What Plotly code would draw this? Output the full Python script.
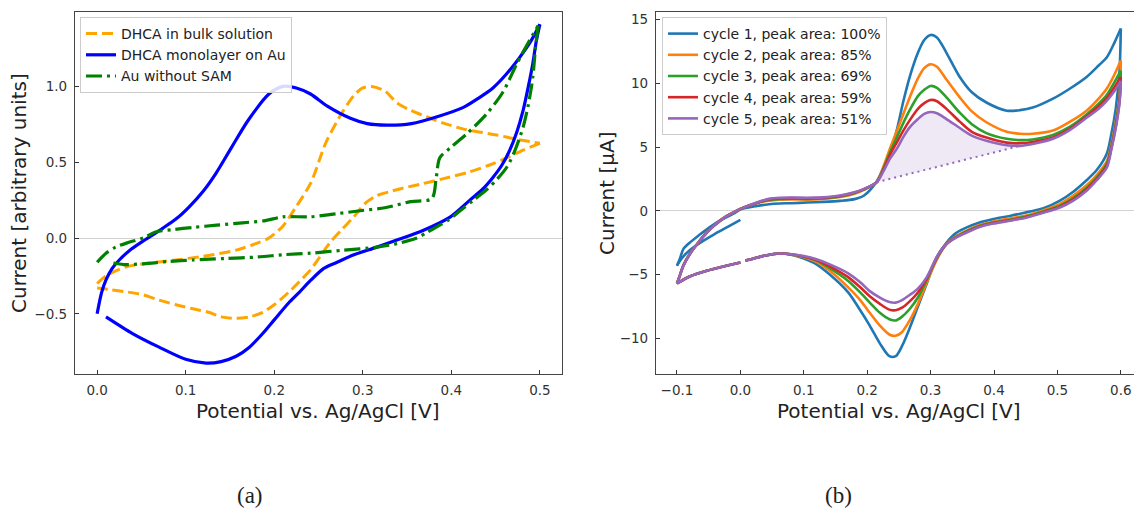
import plotly.graph_objects as go

# ---------------- Panel (a) data ----------------
bulk_x = [0.0, 0.01, 0.033, 0.06, 0.089, 0.12, 0.157, 0.18, 0.194, 0.21, 0.224, 0.241, 0.258, 0.27, 0.278, 0.29, 0.3, 0.31,
          0.325, 0.339, 0.355, 0.372, 0.39, 0.413, 0.431, 0.451, 0.475, 0.5,
          0.481, 0.465, 0.447, 0.42, 0.39, 0.365, 0.346, 0.33, 0.316, 0.303, 0.29, 0.277, 0.263, 0.252, 0.241, 0.228,
          0.216, 0.2, 0.187, 0.172, 0.157, 0.14, 0.126, 0.107, 0.089, 0.07, 0.052, 0.033, 0.014, 0.0]
bulk_y = [-0.30, -0.25, -0.19, -0.165, -0.145, -0.12, -0.08, -0.035, 0.0, 0.08, 0.2, 0.36, 0.625, 0.76, 0.84, 0.94, 0.99, 1.0,
          0.97, 0.89, 0.84, 0.8, 0.76, 0.72, 0.7, 0.68, 0.65, 0.625,
          0.58, 0.535, 0.49, 0.435, 0.39, 0.355, 0.33, 0.305, 0.28, 0.23, 0.14, 0.06, -0.03, -0.12, -0.21, -0.29,
          -0.36, -0.44, -0.49, -0.52, -0.53, -0.52, -0.49, -0.465, -0.44, -0.41, -0.375, -0.355, -0.34, -0.33]

mono_x = [0.0, 0.005, 0.01, 0.017, 0.025, 0.037, 0.051, 0.074, 0.09, 0.104, 0.12, 0.134, 0.152, 0.171, 0.194, 0.21,
          0.225, 0.241, 0.26, 0.286, 0.305, 0.327, 0.355, 0.384, 0.413, 0.43, 0.447, 0.462, 0.477, 0.49, 0.5,
          0.496, 0.492, 0.487, 0.481, 0.474, 0.466, 0.457, 0.447, 0.435, 0.421, 0.399, 0.368, 0.34, 0.316, 0.29,
          0.271, 0.256, 0.241, 0.228, 0.216, 0.2, 0.187, 0.172, 0.157, 0.14, 0.123, 0.1, 0.07, 0.04, 0.01]
mono_y = [-0.5, -0.36, -0.276, -0.2, -0.145, -0.08, -0.024, 0.064, 0.13, 0.206, 0.31, 0.425, 0.6, 0.78, 0.95, 1.0,
          0.99, 0.95, 0.87, 0.79, 0.755, 0.745, 0.755, 0.80, 0.86, 0.92, 0.99, 1.08, 1.19, 1.3, 1.41,
          1.3, 1.15, 1.0, 0.84, 0.7, 0.58, 0.48, 0.40, 0.32, 0.25, 0.14, 0.05, -0.01, -0.06, -0.11,
          -0.16, -0.2, -0.28, -0.36, -0.43, -0.54, -0.63, -0.72, -0.78, -0.815, -0.825, -0.8, -0.72, -0.63, -0.52]

au_x = [0.0, 0.01, 0.021, 0.035, 0.052, 0.066, 0.085, 0.108, 0.135, 0.164, 0.19, 0.21, 0.241, 0.27, 0.297, 0.325,
        0.354, 0.378, 0.383, 0.387, 0.4, 0.418, 0.44, 0.458, 0.474, 0.488, 0.498,
        0.495, 0.492, 0.487, 0.481, 0.472, 0.463, 0.452, 0.44, 0.425, 0.41, 0.397, 0.384, 0.372, 0.361, 0.34,
        0.316, 0.278, 0.241, 0.21, 0.182, 0.145, 0.108, 0.08, 0.052, 0.03, 0.014]
au_y = [-0.16, -0.1, -0.06, -0.03, 0.0, 0.04, 0.055, 0.07, 0.085, 0.1, 0.115, 0.14, 0.14, 0.16, 0.18, 0.2,
        0.24, 0.26, 0.4, 0.53, 0.6, 0.69, 0.82, 0.96, 1.15, 1.3, 1.40,
        1.25, 1.06, 0.88, 0.73, 0.58, 0.47, 0.39, 0.32, 0.25, 0.18, 0.12, 0.075, 0.035, 0.0, -0.035,
        -0.06, -0.08, -0.1, -0.11, -0.125, -0.135, -0.145, -0.155, -0.17, -0.175, -0.16]

names_a = ["DHCA in bulk solution", "DHCA monolayer on Au", "Au without SAM"]

# ---------------- Panel (b) data ----------------
# start segment (scan from 0 V to -0.1 V)
start_x_c1 = [0.0, -0.02, -0.04, -0.06, -0.08, -0.092, -0.1]
start_y_c1 = [-0.7, -1.25, -1.8, -2.4, -3.1, -3.7, -4.3]
start_x = [0.0, -0.03, -0.053, -0.08, -0.1]
start_y = [-4.05, -4.4, -4.7, -5.15, -5.7]

# anodic branch from -0.1 V to 0.6 V
fwd_x = [-0.1, -0.095, -0.09, -0.08, -0.065, -0.053, -0.04, -0.026, -0.01, 0.0, 0.026, 0.045, 0.062, 0.08, 0.105,
         0.13, 0.157, 0.18, 0.195, 0.215, 0.225, 0.236, 0.247, 0.257, 0.267, 0.28, 0.29, 0.30, 0.31, 0.325, 0.346,
         0.365, 0.388, 0.42, 0.441, 0.461, 0.493, 0.52, 0.546, 0.565, 0.578, 0.59, 0.6]
fwd_y_c1 = [-4.3, -3.7, -3.0, -2.5, -1.9, -1.45, -1.0, -0.6, -0.2, 0.1, 0.38, 0.52, 0.58, 0.6, 0.65,
            0.7, 0.78, 0.92, 1.2, 2.3, 3.3, 4.5, 6.4, 8.6, 10.5, 12.4, 13.4, 13.8, 13.6, 12.4, 10.5,
            9.3, 8.5, 7.86, 7.9, 8.1, 8.8, 9.6, 10.5, 11.4, 12.05, 13.2, 14.3]
fwd_y_c2 = [-5.7, -5.0, -4.3, -3.4, -2.4, -1.7, -1.1, -0.55, -0.1, 0.15, 0.6, 0.8, 0.88, 0.9, 0.88,
            0.93, 1.08, 1.35, 1.65, 2.25, 3.4, 4.9, 6.3, 7.6, 8.9, 10.4, 11.2, 11.5, 11.3, 10.3, 8.9,
            7.8, 6.95, 6.2, 6.05, 6.05, 6.3, 7.0, 7.86, 8.8, 9.6, 10.7, 11.8]
fwd_y_c3 = [-5.7, -5.0, -4.3, -3.4, -2.4, -1.7, -1.1, -0.55, -0.1, 0.15, 0.62, 0.85, 0.94, 0.96, 0.94,
            0.98, 1.12, 1.4, 1.68, 2.25, 3.25, 4.6, 5.8, 6.9, 7.9, 9.0, 9.5, 9.8, 9.65, 8.9, 7.7,
            6.8, 6.1, 5.65, 5.55, 5.6, 5.95, 6.6, 7.55, 8.4, 9.1, 10.1, 11.0]
fwd_y_c4 = [-5.7, -5.0, -4.3, -3.4, -2.4, -1.7, -1.1, -0.55, -0.1, 0.15, 0.64, 0.9, 0.98, 1.0, 0.98,
            1.02, 1.16, 1.43, 1.7, 2.25, 3.15, 4.4, 5.4, 6.3, 7.1, 8.0, 8.45, 8.7, 8.6, 8.0, 7.0,
            6.2, 5.75, 5.35, 5.3, 5.4, 5.75, 6.45, 7.4, 8.2, 8.85, 9.7, 10.5]
fwd_y_c5 = [-5.7, -5.0, -4.3, -3.4, -2.4, -1.7, -1.1, -0.55, -0.1, 0.15, 0.66, 0.94, 1.03, 1.05, 1.03,
            1.06, 1.2, 1.46, 1.72, 2.25, 3.05, 4.1, 4.9, 5.8, 6.55, 7.2, 7.6, 7.75, 7.65, 7.2, 6.5,
            5.9, 5.5, 5.15, 5.1, 5.25, 5.65, 6.35, 7.3, 8.0, 8.65, 9.4, 10.2]

# cathodic branch from 0.6 V back to ~0 V
rev_x = [0.6, 0.598, 0.592, 0.585, 0.578, 0.562, 0.546, 0.525, 0.504, 0.478, 0.452, 0.425, 0.399, 0.375, 0.357,
         0.34, 0.325, 0.31, 0.294, 0.28, 0.267, 0.255, 0.245, 0.235, 0.22, 0.204, 0.189, 0.17, 0.141, 0.12, 0.1,
         0.08, 0.062, 0.04, 0.02, 0.008]
rev_y_c1 = [14.3, 11.0, 8.0, 6.0, 4.5, 3.2, 2.4, 1.5, 0.8, 0.2, -0.1, -0.4, -0.65, -0.95, -1.3,
            -1.75, -2.5, -3.6, -5.7, -7.5, -9.2, -10.6, -11.4, -11.4, -10.4, -9.0, -7.8, -6.4, -5.0, -4.2, -3.75,
            -3.45, -3.35, -3.5, -3.75, -3.9]
rev_y_c2 = [11.8, 9.0, 7.0, 5.2, 3.9, 2.8, 2.0, 1.2, 0.55, 0.05, -0.35, -0.6, -0.85, -1.15, -1.55,
            -2.0, -2.6, -3.8, -5.6, -7.3, -8.6, -9.5, -9.8, -9.7, -9.0, -8.0, -7.0, -6.0, -4.7, -4.0, -3.65,
            -3.42, -3.35, -3.5, -3.75, -3.9]
rev_y_c3 = [11.0, 8.8, 6.8, 5.0, 3.7, 2.6, 1.8, 1.0, 0.4, -0.05, -0.43, -0.7, -0.92, -1.22, -1.6,
            -2.05, -2.6, -3.7, -5.4, -6.8, -7.7, -8.3, -8.6, -8.5, -8.0, -7.2, -6.4, -5.5, -4.5, -3.9, -3.6,
            -3.4, -3.35, -3.5, -3.75, -3.9]
rev_y_c4 = [10.5, 8.6, 6.6, 4.9, 3.55, 2.5, 1.7, 0.9, 0.33, -0.1, -0.48, -0.74, -0.96, -1.26, -1.65,
            -2.08, -2.6, -3.65, -5.3, -6.4, -7.1, -7.6, -7.8, -7.75, -7.3, -6.7, -6.0, -5.2, -4.35, -3.85, -3.58,
            -3.4, -3.35, -3.5, -3.75, -3.9]
rev_y_c5 = [10.2, 8.5, 6.5, 4.8, 3.4, 2.4, 1.57, 0.8, 0.26, -0.15, -0.52, -0.78, -1.0, -1.3, -1.7,
            -2.1, -2.6, -3.6, -5.2, -6.1, -6.6, -7.0, -7.2, -7.15, -6.8, -6.3, -5.6, -4.9, -4.2, -3.8, -3.55,
            -3.4, -3.35, -3.5, -3.75, -3.9]

names_b = ["cycle 1, peak area: 100%", "cycle 2, peak area: 85%", "cycle 3, peak area: 69%",
           "cycle 4, peak area: 59%", "cycle 5, peak area: 51%"]
colors_b = ["#1f77b4", "#ff7f0e", "#2ca02c", "#d62728", "#9467bd"]

# peak-area baseline (cycle 5)
base_x = [0.215, 0.441]
base_y = [2.25, 5.1]

# ---------------- Figure ----------------
W, H = 1134, 512
def px(x): return x / W
def py(y): return 1 - y / H

fig = go.Figure()


def add_loop(xs, ys, name, line, xa, ya, leg):
    """Draw a CV loop as smooth forward / reverse branches (split at the vertex)."""
    k = xs.index(max(xs))
    parts = [(xs[:k + 1], ys[:k + 1]), (xs[k:], ys[k:])]
    for j, (px_, py_) in enumerate(parts):
        fig.add_trace(go.Scatter(x=px_, y=py_, mode="lines", name=name, legendgroup=name,
                                 showlegend=(j == 0), line=dict(shape="spline", smoothing=0.8, **line),
                                 xaxis=xa, yaxis=ya, legend=leg))


# Panel (a)
add_loop(bulk_x, bulk_y, names_a[0], dict(color="#FFA500", width=3, dash="11px,5px"), "x", "y", "legend")
add_loop(mono_x, mono_y, names_a[1], dict(color="#0000FF", width=3.2), "x", "y", "legend")
add_loop(au_x, au_y, names_a[2], dict(color="#008000", width=3.2, dash="16px,5px,3px,5px"), "x", "y", "legend")

# Panel (b): shaded peak area of cycle 5
fx, fy = [], []
for xv, yv in zip(fwd_x, fwd_y_c5):
    if base_x[0] <= xv <= base_x[1]:
        fx.append(xv); fy.append(yv)
fx = [base_x[0]] + fx + [base_x[1], base_x[0]]
fy = [base_y[0]] + fy + [base_y[1], base_y[0]]
fig.add_trace(go.Scatter(x=fx, y=fy, mode="lines", fill="toself",
                         fillcolor="rgba(148,103,189,0.15)", line=dict(width=0),
                         showlegend=False, hoverinfo="skip", xaxis="x2", yaxis="y2"))

fwd_all = [fwd_y_c1, fwd_y_c2, fwd_y_c3, fwd_y_c4, fwd_y_c5]
rev_all = [rev_y_c1, rev_y_c2, rev_y_c3, rev_y_c4, rev_y_c5]
for i in range(5):
    sx = start_x_c1 if i == 0 else start_x
    sy = start_y_c1 if i == 0 else start_y
    segs = [(sx, sy), (fwd_x, fwd_all[i]), (rev_x, rev_all[i])]
    for j, (sxx, syy) in enumerate(segs):
        fig.add_trace(go.Scatter(x=sxx, y=syy, mode="lines", name=names_b[i], legendgroup=names_b[i],
                                 showlegend=(j == 1),
                                 line=dict(color=colors_b[i], width=2.6, shape="spline", smoothing=0.8),
                                 xaxis="x2", yaxis="y2", legend="legend2"))

fig.add_trace(go.Scatter(x=base_x, y=base_y, mode="lines", showlegend=False,
                         line=dict(color="#9467bd", width=2, dash="2px,4px"),
                         xaxis="x2", yaxis="y2"))

tickfont = dict(family="DejaVu Sans", size=13.5, color="#333333")
axis_common = dict(showgrid=False, ticks="inside", ticklen=4, tickwidth=1, tickcolor="#333333",
                   showline=True, linecolor="#444444", linewidth=1.3, tickfont=tickfont,
                   automargin=False, ticklabelstandoff=4)

ydom = [py(374), py(12)]
fig.update_layout(
    width=W, height=H, margin=dict(l=0, r=0, t=0, b=0),
    paper_bgcolor="white", plot_bgcolor="white",
    xaxis=dict(domain=[px(75), px(562)], range=[-0.025, 0.525], tickvals=[0, 0.1, 0.2, 0.3, 0.4, 0.5],
               ticktext=["0.0", "0.1", "0.2", "0.3", "0.4", "0.5"], zeroline=False, mirror=True,
               anchor="y", **axis_common),
    yaxis=dict(domain=ydom, range=[-0.897, 1.491], tickvals=[-0.5, 0, 0.5, 1.0],
               ticktext=["\u22120.5", "0.0", "0.5", "1.0"], zeroline=True, zerolinecolor="#d3d3d3",
               zerolinewidth=1.2, mirror=True, anchor="x", **axis_common),
    xaxis2=dict(domain=[px(656), 1.0], range=[-0.1331, 0.6208],
                tickvals=[-0.1, 0, 0.1, 0.2, 0.3, 0.4, 0.5, 0.6],
                ticktext=["\u22120.1", "0.0", "0.1", "0.2", "0.3", "0.4", "0.5", "0.6"],
                zeroline=False, mirror=True, anchor="y2", **axis_common),
    yaxis2=dict(domain=ydom, range=[-12.8, 15.6], tickvals=[-10, -5, 0, 5, 10, 15],
                ticktext=["\u221210", "\u22125", "0", "5", "10", "15"], zeroline=True,
                zerolinecolor="#d3d3d3", zerolinewidth=1.2, mirror=False, anchor="x2", **axis_common),
    legend=dict(x=px(80), y=py(17), xanchor="left", yanchor="top", bgcolor="rgba(255,255,255,0.85)",
                bordercolor="#cccccc", borderwidth=1, font=dict(family="DejaVu Sans", size=14, color="#222222"),
                tracegroupgap=0, itemwidth=30),
    legend2=dict(x=px(662), y=py(17), xanchor="left", yanchor="top", bgcolor="rgba(255,255,255,0.85)",
                 bordercolor="#cccccc", borderwidth=1, font=dict(family="DejaVu Sans", size=14, color="#222222"),
                 tracegroupgap=0, itemwidth=30),
)

title_font = dict(family="DejaVu Sans", size=20, color="#222222")
annos = [
    dict(text="Current [arbitrary units]", x=px(19), y=py(193), textangle=-90, font=title_font),
    dict(text="Potential vs. Ag/AgCl [V]", x=px(318), y=py(411), font=title_font),
    dict(text="Current [\u03bcA]", x=px(607), y=py(193), textangle=-90, font=title_font),
    dict(text="Potential vs. Ag/AgCl [V]", x=px(899), y=py(411), font=title_font),
    dict(text="(a)", x=px(250), y=py(495), font=dict(family="Liberation Serif", size=23, color="#222222")),
    dict(text="(b)", x=px(838), y=py(495), font=dict(family="Liberation Serif", size=23, color="#222222")),
]
for a in annos:
    fig.add_annotation(xref="paper", yref="paper", showarrow=False, xanchor="center", yanchor="middle", **a)

fig.write_html("out.html")
